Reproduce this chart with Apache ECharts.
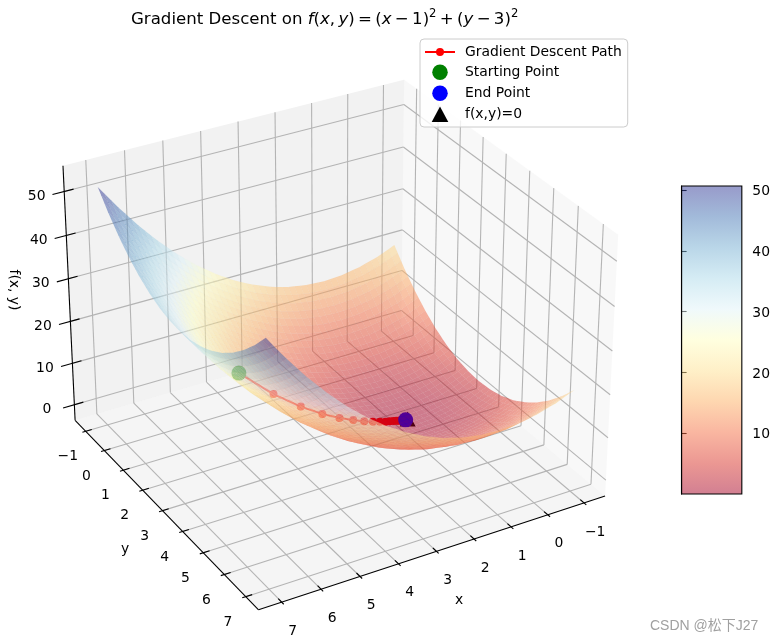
<!DOCTYPE html>
<html><head><meta charset="utf-8">
<style>html,body{margin:0;padding:0;background:#fff}#c{width:773px;height:642px}</style>
<script src="https://cdn.jsdelivr.net/npm/echarts@6/dist/echarts.min.js"></script>
</head><body><div id="c"></div>
<script>
const xTicks=[-1,0,1,2,3,4,5,6,7];
const yTicks=[-1,0,1,2,3,4,5,6,7];
const zTicks=[0,10,20,30,40,50];
const colorbarTicks=[10,20,30,40,50];
const colorbarRange=[0,50.66];
const surfaceX=[-1,-.5,0,.5,1,1.5,2,2.5,3,3.5,4,4.5,5,5.5,6,6.5,7];
const surfaceY=[-1,-.5,0,.5,1,1.5,2,2.5,3,3.5,4,4.5,5,5.5,6,6.5,7];
const surfaceZ=[
[20,18.25,17,16.25,16,16.25,17,18.25,20,22.25,25,28.25,32,36.25,41,46.25,52],
[16.25,14.5,13.25,12.5,12.25,12.5,13.25,14.5,16.25,18.5,21.25,24.5,28.25,32.5,37.25,42.5,48.25],
[13,11.25,10,9.25,9,9.25,10,11.25,13,15.25,18,21.25,25,29.25,34,39.25,45],
[10.25,8.5,7.25,6.5,6.25,6.5,7.25,8.5,10.25,12.5,15.25,18.5,22.25,26.5,31.25,36.5,42.25],
[8,6.25,5,4.25,4,4.25,5,6.25,8,10.25,13,16.25,20,24.25,29,34.25,40],
[6.25,4.5,3.25,2.5,2.25,2.5,3.25,4.5,6.25,8.5,11.25,14.5,18.25,22.5,27.25,32.5,38.25],
[5,3.25,2,1.25,1,1.25,2,3.25,5,7.25,10,13.25,17,21.25,26,31.25,37],
[4.25,2.5,1.25,.5,.25,.5,1.25,2.5,4.25,6.5,9.25,12.5,16.25,20.5,25.25,30.5,36.25],
[4,2.25,1,.25,0,.25,1,2.25,4,6.25,9,12.25,16,20.25,25,30.25,36],
[4.25,2.5,1.25,.5,.25,.5,1.25,2.5,4.25,6.5,9.25,12.5,16.25,20.5,25.25,30.5,36.25],
[5,3.25,2,1.25,1,1.25,2,3.25,5,7.25,10,13.25,17,21.25,26,31.25,37],
[6.25,4.5,3.25,2.5,2.25,2.5,3.25,4.5,6.25,8.5,11.25,14.5,18.25,22.5,27.25,32.5,38.25],
[8,6.25,5,4.25,4,4.25,5,6.25,8,10.25,13,16.25,20,24.25,29,34.25,40],
[10.25,8.5,7.25,6.5,6.25,6.5,7.25,8.5,10.25,12.5,15.25,18.5,22.25,26.5,31.25,36.5,42.25],
[13,11.25,10,9.25,9,9.25,10,11.25,13,15.25,18,21.25,25,29.25,34,39.25,45],
[16.25,14.5,13.25,12.5,12.25,12.5,13.25,14.5,16.25,18.5,21.25,24.5,28.25,32.5,37.25,42.5,48.25],
[20,18.25,17,16.25,16,16.25,17,18.25,20,22.25,25,28.25,32,36.25,41,46.25,52]];
const pathX=[5,4.2,3.56,3.05,2.64,2.31,2.05,1.84,1.67,1.54,1.43,1.34,1.27,1.22,1.18,1.14,1.11,1.09,1.07,1.06,1.05];
const pathY=[2,2.2,2.36,2.49,2.59,2.67,2.74,2.79,2.83,2.87,2.89,2.91,2.93,2.95,2.96,2.96,2.97,2.98,2.98,2.99,2.99];
const pathZ=[17,10.88,6.96,4.46,2.85,1.83,1.17,.75,.48,.31,.2,.13,.08,.05,.03,.02,.01,.01,0,0,0];
const startPoint=[5,2,17];
const endPoint=[1.05,2.99,0];
const minimumPoint=[1,3,0];
const rdYlBu=[[165,0,38],[215,48,39],[244,109,67],[253,174,97],[254,224,144],[255,255,191],[224,243,248],[171,217,233],[116,173,209],[69,117,180],[49,54,149]];

const xLim=[-1.4,7.4], yLim=[-1.4,7.4], zLim=[-2.6,54.6];
const viewAz=60*Math.PI/180, viewEl=30*Math.PI/180, viewDist=10;
const box=[1.1905,1.1905,0.8929];
const W=[Math.cos(viewEl)*Math.cos(viewAz),Math.cos(viewEl)*Math.sin(viewAz),Math.sin(viewEl)];
const ul=Math.hypot(W[0],W[1]);
const U=[-W[1]/ul,W[0]/ul,0];
const Vv=[W[1]*U[2]-W[2]*U[1],W[2]*U[0]-W[0]*U[2],W[0]*U[1]-W[1]*U[0]];
function proj(x,y,z){
  const p=[(x-xLim[0])/(xLim[1]-xLim[0])*box[0]-box[0]/2,(y-yLim[0])/(yLim[1]-yLim[0])*box[1]-box[1]/2,(z-zLim[0])/(zLim[1]-zLim[0])*box[2]-box[2]/2];
  const dot=(a,b)=>a[0]*b[0]+a[1]*b[1]+a[2]*b[2];
  const d=viewDist-dot(p,W);
  return [dot(p,U)/d,dot(p,Vv)/d,d];
}
const pad=a=>(a[1]-a[0])/48;
const xP=[xLim[0]-pad(xLim),xLim[1]+pad(xLim)],yP=[yLim[0]-pad(yLim),yLim[1]+pad(yLim)],zP=[zLim[0]-pad(zLim),zLim[1]+pad(zLim)];
function colorOf(v){
  const t=Math.max(0,Math.min(1,(v-colorbarRange[0])/(colorbarRange[1]-colorbarRange[0])))*10;
  const i=Math.min(9,Math.floor(t)),f=t-i,a=rdYlBu[i],b=rdYlBu[i+1];
  return 'rgba('+[0,1,2].map(k=>Math.round(a[k]+(b[k]-a[k])*f)).join(',')+',0.5)';
}
// fine render mesh over the read table
const SUB=3;const quads=[];
function zAt(fi,fj){
  const i=Math.min(surfaceX.length-2,Math.floor(fi)),j=Math.min(surfaceY.length-2,Math.floor(fj)),a=fi-i,b=fj-j;
  return (1-b)*((1-a)*surfaceZ[j][i]+a*surfaceZ[j][i+1])+b*((1-a)*surfaceZ[j+1][i]+a*surfaceZ[j+1][i+1]);
}
function vtx(fi,fj){
  const i=Math.min(surfaceX.length-2,Math.floor(fi)),j=Math.min(surfaceY.length-2,Math.floor(fj));
  return [surfaceX[i]+(surfaceX[i+1]-surfaceX[i])*(fi-i),surfaceY[j]+(surfaceY[j+1]-surfaceY[j])*(fj-j),zAt(fi,fj)];
}
const nc=(surfaceX.length-1)*SUB;
for(let a=0;a<nc;a++)for(let b=0;b<nc;b++){
  const s=1/SUB,pts=[vtx(a*s,b*s),vtx((a+1)*s,b*s),vtx((a+1)*s,(b+1)*s),vtx(a*s,(b+1)*s)];
  const val=pts.reduce((t,p)=>t+p[2],0)/4;
  const dep=pts.reduce((t,p)=>t+proj(p[0],p[1],p[2])[2],0)/4;
  quads.push({pts,val,dep});
}
quads.sort((p,q)=>q.dep-p.dep);

const screen=(api,p)=>{const r=proj(p[0],p[1],p[2]);return api.coord([r[0],r[1]]);};
const seg=(api,a,b,col,w)=>{const A=screen(api,a),B=screen(api,b);return {type:'line',shape:{x1:A[0],y1:A[1],x2:B[0],y2:B[1]},style:{stroke:col,lineWidth:w},silent:true};};
const poly=(api,ps,fill)=>({type:'polygon',shape:{points:ps.map(p=>screen(api,p))},style:{fill},silent:true});
const label=(api,p,dx,dy,text,rot)=>{const A=screen(api,p);return {type:'text',x:A[0]+dx,y:A[1]+dy,rotation:rot||0,style:{text,textAlign:'center',textVerticalAlign:'middle',fontFamily:'DejaVu Sans',fontSize:13.9,fill:'#000'},silent:true};};
const fmt=v=>String(v).replace('-','\u2212');

const GRIDC='#b4b4b4';
function frame(params,api){
  const ch=[];
  ch.push(poly(api,[[xP[0],yP[0],zP[0]],[xP[0],yP[1],zP[0]],[xP[0],yP[1],zP[1]],[xP[0],yP[0],zP[1]]],'rgba(242,242,242,0.5)'));
  ch.push(poly(api,[[xP[0],yP[0],zP[0]],[xP[1],yP[0],zP[0]],[xP[1],yP[0],zP[1]],[xP[0],yP[0],zP[1]]],'rgba(230,230,230,0.5)'));
  ch.push(poly(api,[[xP[0],yP[0],zP[0]],[xP[1],yP[0],zP[0]],[xP[1],yP[1],zP[0]],[xP[0],yP[1],zP[0]]],'rgba(236,236,236,0.5)'));
  xTicks.forEach(t=>{
    ch.push(seg(api,[t,yP[1],zP[0]],[t,yP[0],zP[0]],GRIDC,1.1));
    ch.push(seg(api,[t,yP[0],zP[0]],[t,yP[0],zP[1]],GRIDC,1.1));
    ch.push(seg(api,[t,yP[1]+.09,zP[0]],[t,yP[1]-.16,zP[0]],'#000',1.1));
    ch.push(label(api,[t,yP[1],zP[0]],11,29,fmt(t)));
  });
  yTicks.forEach(t=>{
    ch.push(seg(api,[xP[1],t,zP[0]],[xP[0],t,zP[0]],GRIDC,1.1));
    ch.push(seg(api,[xP[0],t,zP[0]],[xP[0],t,zP[1]],GRIDC,1.1));
    ch.push(seg(api,[xP[1]+.09,t,zP[0]],[xP[1]-.16,t,zP[0]],'#000',1.1));
    ch.push(label(api,[xP[1],t,zP[0]],-18,25.5,fmt(t)));
  });
  zTicks.forEach(t=>{
    ch.push(seg(api,[xP[1],yP[0],t],[xP[0],yP[0],t],GRIDC,1.1));
    ch.push(seg(api,[xP[0],yP[0],t],[xP[0],yP[1],t],GRIDC,1.1));
    ch.push(seg(api,[xP[1]+.3,yP[0],t],[xP[1]-.24,yP[0],t],'#000',1.1));
    ch.push(label(api,[xP[1],yP[0],t],-27.5,4.8,fmt(t)));
  });
  ch.push(seg(api,[xP[0],yP[1],zP[0]],[xP[1],yP[1],zP[0]],'#000',1.1));
  ch.push(seg(api,[xP[1],yP[0],zP[0]],[xP[1],yP[1],zP[0]],'#000',1.1));
  ch.push(seg(api,[xP[1],yP[0],zP[0]],[xP[1],yP[0],zP[1]],'#000',1.1));
  return {type:'group',children:ch};
}
const view={coordinateSystem:'cartesian2d',xAxisIndex:0,yAxisIndex:0,progressive:0,animation:false};
const dotSeries=(name,color,pt,sym)=>Object.assign({},view,{type:'custom',name,itemStyle:{color},data:[[0]],
  renderItem(p,api){
    const A=screen(api,pt);
    if(sym==='tri') return {type:'polygon',shape:{points:[[A[0],A[1]-8],[A[0]-8,A[1]+7],[A[0]+8,A[1]+7]]},style:{fill:color},silent:true};
    return {type:'circle',shape:{cx:A[0],cy:A[1],r:7.5},style:{fill:color},silent:true};
  }});
const stops=rdYlBu.map((c,i)=>({offset:i/10,color:'rgba('+c.join(',')+',0.5)'}));
const ROM={fontFamily:'DejaVu Sans',fontSize:16.6,color:'#000'};
const option={
  animation:false,backgroundColor:'#fff',
  textStyle:{fontFamily:'DejaVu Sans'},
  title:{left:126,top:3,text:'Gradient Descent on {i|f}({i|x},\u2009{i|y})\u2009=\u2009({i|x}\u2009\u2212\u20091){s|2}\u2009+\u2009({i|y}\u2009\u2212\u20093){s|2}',
    textStyle:Object.assign({},ROM,{fontWeight:'normal',lineHeight:24,
      rich:{i:Object.assign({},ROM,{fontStyle:'italic'}),s:{fontSize:11.6,fontFamily:'DejaVu Sans',color:'#000',verticalAlign:'top',lineHeight:15}}})},
  legend:{orient:'vertical',left:420,top:39,padding:[6,6,5,5],itemWidth:30,itemHeight:15.5,itemGap:5.5,selectedMode:false,
    backgroundColor:'rgba(255,255,255,0.8)',borderColor:'#ccc',borderWidth:1,borderRadius:4,
    textStyle:{fontFamily:'DejaVu Sans',fontSize:13.9,color:'#000',padding:[0,0,0,5]},
    data:[{name:'Gradient Descent Path',icon:'path://M0 3H30V5H0Z M11 4a4 4 0 1 1 8 0a4 4 0 1 1 -8 0Z'},
      {name:'Starting Point',icon:'circle'},{name:'End Point',icon:'circle'},{name:'f(x,y)=0',icon:'path://M7.5 0L15 14L0 14Z'}]},
  grid:[{left:31,top:43.5,width:592,height:598.5},{left:681.6,top:186,width:60.6,height:308}],
  xAxis:[{type:'value',show:false,min:-0.095,max:0.09},{type:'value',gridIndex:1,show:false,min:0,max:1}],
  yAxis:[{type:'value',show:false,max:0.09,min:0.09-598.5/3200},
    {type:'value',gridIndex:1,position:'right',min:colorbarRange[0],max:colorbarRange[1],interval:10,splitLine:{show:false},
     axisLine:{show:true,lineStyle:{color:'#000',width:1.1}},axisTick:{show:true,length:5,customValues:colorbarTicks,lineStyle:{color:'#000',width:1.1}},
     axisLabel:{customValues:colorbarTicks,margin:10.5,fontFamily:'DejaVu Sans',fontSize:13.9,color:'#000',verticalAlign:'top',lineHeight:3}}],
  graphic:[
    {type:'text',left:650,top:619,silent:true,style:{text:'CSDN @\u677e\u4e0bJ27',fontFamily:'"Liberation Sans","Noto Sans CJK SC"',fontSize:14,fill:'#a0a0a0'}},
    {type:'text',x:459,y:600,silent:true,style:{text:'x',textAlign:'center',textVerticalAlign:'middle',fontFamily:'DejaVu Sans',fontSize:13.9,fill:'#000'}},
    {type:'text',x:125,y:549,silent:true,style:{text:'y',textAlign:'center',textVerticalAlign:'middle',fontFamily:'DejaVu Sans',fontSize:13.9,fill:'#000'}},
    {type:'text',x:14,y:290,rotation:-Math.PI/2,silent:true,style:{text:'f(x, y)',textAlign:'center',textVerticalAlign:'middle',fontFamily:'DejaVu Sans',fontSize:13.9,fill:'#000'}}
  ],
  series:[
    Object.assign({},view,{type:'custom',name:'frame',data:[[0]],renderItem:frame}),
    Object.assign({},view,{type:'custom',name:'Gradient Descent Path',itemStyle:{color:'#f00'},data:pathX.map((x,i)=>[x,pathY[i],pathZ[i]]),
      renderItem(p,api){
        const i=p.dataIndexInside,A=screen(api,[pathX[i],pathY[i],pathZ[i]]),ch=[{type:'circle',shape:{cx:A[0],cy:A[1],r:4},style:{fill:'#f00'},silent:true}];
        if(i>0){const B=screen(api,[pathX[i-1],pathY[i-1],pathZ[i-1]]);ch.push({type:'line',shape:{x1:A[0],y1:A[1],x2:B[0],y2:B[1]},style:{stroke:'#f00',lineWidth:2},silent:true});}
        return {type:'group',children:ch};
      }}),
    dotSeries('Starting Point','#008000',startPoint),
    dotSeries('f(x,y)=0','#000',minimumPoint,'tri'),
    dotSeries('End Point','#0000ff',endPoint),
    Object.assign({},view,{type:'custom',name:'surface',data:quads.map((q,i)=>[i]),
      renderItem(p,api){const q=quads[api.value(0)];return poly(api,q.pts,colorOf(q.val));}}),
    {type:'custom',coordinateSystem:'cartesian2d',xAxisIndex:1,yAxisIndex:1,name:'colorbar',animation:false,data:[[0,colorbarRange[0],1,colorbarRange[1]]],
     renderItem(p,api){
       const A=api.coord([api.value(0),api.value(1)]),B=api.coord([api.value(2),api.value(3)]);
       return {type:'rect',shape:{x:A[0],y:B[1],width:B[0]-A[0],height:A[1]-B[1]},silent:true,
         style:{fill:new echarts.graphic.LinearGradient(0,1,0,0,stops),stroke:'#000',lineWidth:1.1}};
     }}
  ]
};
const chart=echarts.init(document.getElementById('c'),null,{renderer:'canvas'});
chart.setOption(option);
</script></body></html>
